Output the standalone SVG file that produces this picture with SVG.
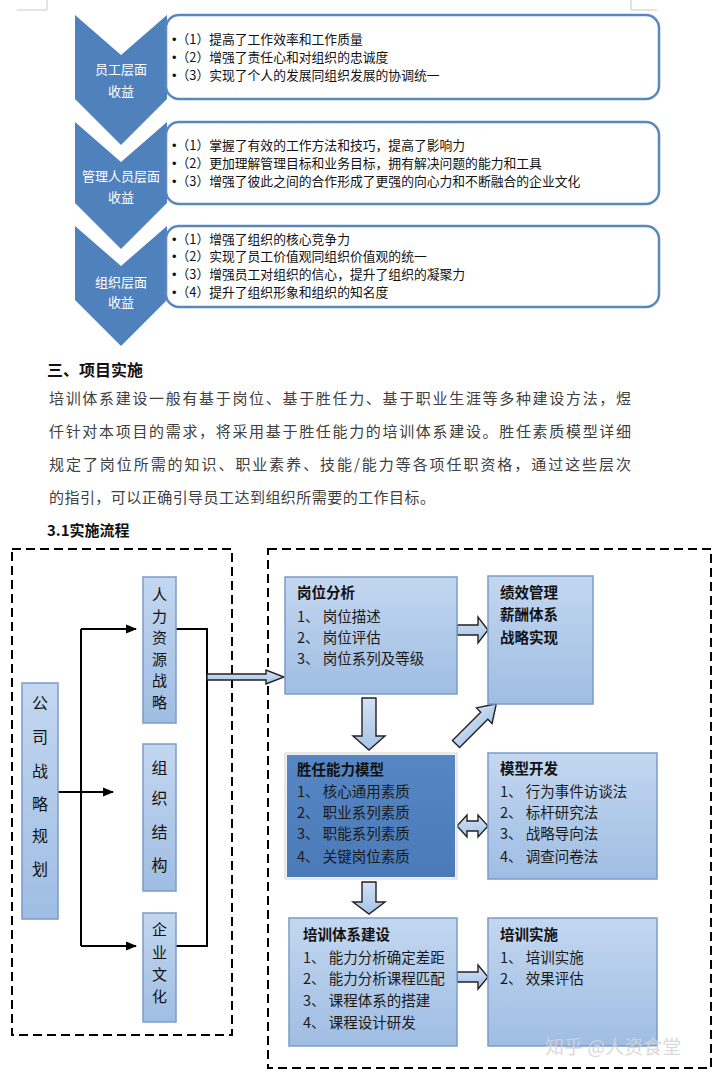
<svg xmlns="http://www.w3.org/2000/svg" width="720" height="1077" viewBox="0 0 720 1077">
<defs>
<linearGradient id="g1" x1="0" y1="0" x2="0" y2="1"><stop offset="0" stop-color="#c3d7f0"/><stop offset="1" stop-color="#9fbde3"/></linearGradient>
<linearGradient id="g2" x1="0" y1="0" x2="0" y2="1"><stop offset="0" stop-color="#d3e2f5"/><stop offset="1" stop-color="#a6c3e7"/></linearGradient>
<linearGradient id="g3" x1="0" y1="0" x2="0" y2="1"><stop offset="0" stop-color="#5686c3"/><stop offset="1" stop-color="#4a7ab8"/></linearGradient>
<marker id="ah" markerUnits="userSpaceOnUse" markerWidth="11" markerHeight="10" refX="10" refY="5" orient="auto"><path d="M0,0.5 L11,5 L0,9.5 z" fill="#000"/></marker>
<style>
text{font-family:"Noto Sans CJK SC","Noto Sans",sans-serif}
.cv{fill:#4f81bd}
.rb{fill:#fff;stroke:#5a87c0;stroke-width:2.5}
.bt{font-size:12.8px;fill:#111}
.bu{font-family:"Liberation Sans",Arial,sans-serif}
.ct{font-size:13px;fill:#fff;text-anchor:middle}
.box{fill:url(#g1);stroke:#7b9cc8;stroke-width:1.5}
.ft{font-size:14.5px;font-weight:bold;fill:#111}
.fi{font-size:14.5px;fill:#1a1a1a}
.vt{font-size:16px;fill:#111;text-anchor:middle}
.vs{font-size:15px;fill:#111;text-anchor:middle}
.blk{fill:url(#g2);stroke:#222;stroke-width:1.4;stroke-linejoin:miter}
.dash{fill:none;stroke:#000;stroke-width:2;stroke-dasharray:9 5}
.ln{fill:none;stroke:#000;stroke-width:2}
.pt{font-size:15px;fill:#404040}
.hd{font-size:16px;font-weight:bold;fill:#111}
.mk{fill:none;stroke:#c8c8c8;stroke-width:1}
</style>
</defs>

<g id="corner-marks">
<path class="mk" d="M17,10 H47 V0"/>
<path class="mk" d="M631,0 V10 H657"/>
</g>

<g id="benefit-employee">
<polygon class="cv" points="75,15 121,55 167,15 167,99 121,145 75,99"/>
<rect class="rb" x="166" y="15" width="493" height="84" rx="13"/>
<text class="ct" x="121" y="74">员工层面</text>
<text class="ct" x="121" y="96">收益</text>
<text class="bt" x="172" y="44"><tspan class="bu">•</tspan>（1）提高了工作效率和工作质量</text>
<text class="bt" x="172" y="62"><tspan class="bu">•</tspan>（2）增强了责任心和对组织的忠诚度</text>
<text class="bt" x="172" y="80"><tspan class="bu">•</tspan>（3）实现了个人的发展同组织发展的协调统一</text>
</g>

<g id="benefit-manager">
<polygon class="cv" points="75,122 121,162 167,122 167,203 121,249 75,203"/>
<rect class="rb" x="166" y="122" width="493" height="82" rx="13"/>
<text class="ct" x="121" y="181">管理人员层面</text>
<text class="ct" x="121" y="202">收益</text>
<text class="bt" x="172" y="150"><tspan class="bu">•</tspan>（1）掌握了有效的工作方法和技巧，提高了影响力</text>
<text class="bt" x="172" y="168"><tspan class="bu">•</tspan>（2）更加理解管理目标和业务目标，拥有解决问题的能力和工具</text>
<text class="bt" x="172" y="186"><tspan class="bu">•</tspan>（3）增强了彼此之间的合作形成了更强的向心力和不断融合的企业文化</text>
</g>

<g id="benefit-org">
<polygon class="cv" points="75,226 121,266 167,226 167,300 121,346 75,300"/>
<rect class="rb" x="166" y="226" width="493" height="81" rx="13"/>
<text class="ct" x="121" y="287">组织层面</text>
<text class="ct" x="121" y="307">收益</text>
<text class="bt" x="172" y="244"><tspan class="bu">•</tspan>（1）增强了组织的核心竞争力</text>
<text class="bt" x="172" y="261"><tspan class="bu">•</tspan>（2）实现了员工价值观同组织价值观的统一</text>
<text class="bt" x="172" y="279"><tspan class="bu">•</tspan>（3）增强员工对组织的信心，提升了组织的凝聚力</text>
<text class="bt" x="172" y="297"><tspan class="bu">•</tspan>（4）提升了组织形象和组织的知名度</text>
</g>

<g id="section-text">
<text class="hd" x="47" y="376">三、项目实施</text>
<text class="pt" x="49" y="404" textLength="582" lengthAdjust="spacing">培训体系建设一般有基于岗位、基于胜任力、基于职业生涯等多种建设方法，煜</text>
<text class="pt" x="49" y="437" textLength="582" lengthAdjust="spacing">仟针对本项目的需求，将采用基于胜任能力的培训体系建设。胜任素质模型详细</text>
<text class="pt" x="49" y="470" textLength="582" lengthAdjust="spacing">规定了岗位所需的知识、职业素养、技能/能力等各项任职资格，通过这些层次</text>
<text class="pt" x="49" y="503" textLength="386" lengthAdjust="spacing">的指引，可以正确引导员工达到组织所需要的工作目标。</text>
<text class="hd" x="47" y="536" style="font-size:15px">3.1实施流程</text>
</g>

<g id="frames">
<rect class="dash" x="12" y="549" width="220" height="486"/>
<rect class="dash" x="268" y="549" width="443" height="519"/>
</g>

<g id="connectors">
<path class="ln" d="M81,629 V946"/>
<path class="ln" d="M81,629 H136" marker-end="url(#ah)"/>
<path class="ln" d="M81,946 H136" marker-end="url(#ah)"/>
<path class="ln" d="M58,792 H113" marker-end="url(#ah)"/>
<path class="ln" d="M176,629 H207 V946 H176"/>
<polygon class="blk" points="207,674 266,674 266,670 284,677 266,684 266,680 207,680"/>
<polygon class="blk" points="457,625 478,625 478,617 488,630 478,643 478,635 457,635"/>
<polygon class="blk" points="457,972 478,972 478,965 488,977 478,989 478,982 457,982"/>
<polygon class="blk" points="457,826 467,815 467,821 478,821 478,815 488,826 478,837 478,831 467,831 467,837"/>
<polygon class="blk" points="362,698 376,698 376,736 385,736 369,750 353,736 362,736"/>
<polygon class="blk" points="362,882 376,882 376,902 385,902 369,914 353,902 362,902"/>
<polygon class="blk" points="0,-5 40,-5 40,-11 57,0 40,11 40,5 0,5" transform="translate(456,744) rotate(-45)"/>
</g>

<g id="node-company">
<rect class="box" x="22" y="683" width="36" height="236"/>
<text class="vt" x="40" y="709">公</text>
<text class="vt" x="40" y="743">司</text>
<text class="vt" x="40" y="777">战</text>
<text class="vt" x="40" y="810">略</text>
<text class="vt" x="40" y="842">规</text>
<text class="vt" x="40" y="875">划</text>
</g>

<g id="node-hr">
<rect class="box" x="143" y="577" width="33" height="146"/>
<text class="vs" x="159.5" y="600">人</text>
<text class="vs" x="159.5" y="622">力</text>
<text class="vs" x="159.5" y="643">资</text>
<text class="vs" x="159.5" y="665">源</text>
<text class="vs" x="159.5" y="686">战</text>
<text class="vs" x="159.5" y="708">略</text>
</g>

<g id="node-structure">
<rect class="box" x="143" y="744" width="33" height="147"/>
<text class="vt" x="159.5" y="774">组</text>
<text class="vt" x="159.5" y="804">织</text>
<text class="vt" x="159.5" y="838">结</text>
<text class="vt" x="159.5" y="871">构</text>
</g>

<g id="node-culture">
<rect class="box" x="143" y="913" width="33" height="109"/>
<text class="vs" x="159.5" y="935">企</text>
<text class="vs" x="159.5" y="958">业</text>
<text class="vs" x="159.5" y="980">文</text>
<text class="vs" x="159.5" y="1002">化</text>
</g>

<g id="node-job-analysis">
<rect class="box" x="285" y="577" width="172" height="117"/>
<text class="ft" x="297" y="598">岗位分析</text>
<text class="fi" x="297" y="622">1、 岗位描述</text>
<text class="fi" x="297" y="643">2、 岗位评估</text>
<text class="fi" x="297" y="664">3、 岗位系列及等级</text>
</g>

<g id="node-performance">
<rect class="box" x="488" y="576" width="105" height="128"/>
<text class="ft" x="500" y="598">绩效管理</text>
<text class="ft" x="500" y="620">薪酬体系</text>
<text class="ft" x="500" y="643">战略实现</text>
</g>

<g id="node-competency">
<rect x="285" y="753" width="172" height="126" fill="#f2f2f2" stroke="#d6d6d6" stroke-width="1"/>
<rect x="287" y="755" width="168" height="122" fill="url(#g3)"/>
<text class="ft" x="297" y="775">胜任能力模型</text>
<text class="fi" x="297" y="797">1、 核心通用素质</text>
<text class="fi" x="297" y="818">2、 职业系列素质</text>
<text class="fi" x="297" y="839">3、 职能系列素质</text>
<text class="fi" x="297" y="862">4、 关键岗位素质</text>
</g>

<g id="node-model-dev">
<rect class="box" x="488" y="753" width="169" height="126"/>
<text class="ft" x="500" y="774">模型开发</text>
<text class="fi" x="500" y="797">1、 行为事件访谈法</text>
<text class="fi" x="500" y="818">2、 标杆研究法</text>
<text class="fi" x="500" y="839">3、 战略导向法</text>
<text class="fi" x="500" y="862">4、 调查问卷法</text>
</g>

<g id="node-training-system">
<rect class="box" x="289" y="918" width="168" height="128"/>
<text class="ft" x="303" y="940">培训体系建设</text>
<text class="fi" x="303" y="963">1、 能力分析确定差距</text>
<text class="fi" x="303" y="984">2、 能力分析课程匹配</text>
<text class="fi" x="303" y="1006">3、 课程体系的搭建</text>
<text class="fi" x="303" y="1028">4、 课程设计研发</text>
</g>

<g id="node-training-impl">
<rect class="box" x="488" y="918" width="169" height="128"/>
<text class="ft" x="500" y="940">培训实施</text>
<text class="fi" x="500" y="963">1、 培训实施</text>
<text class="fi" x="500" y="984">2、 效果评估</text>
</g>

<g id="watermark">
<text x="545" y="1054" style="font-size:19px;fill:#d4d4d4;fill-opacity:0.9">知乎 @人资食堂</text>
</g>
</svg>
